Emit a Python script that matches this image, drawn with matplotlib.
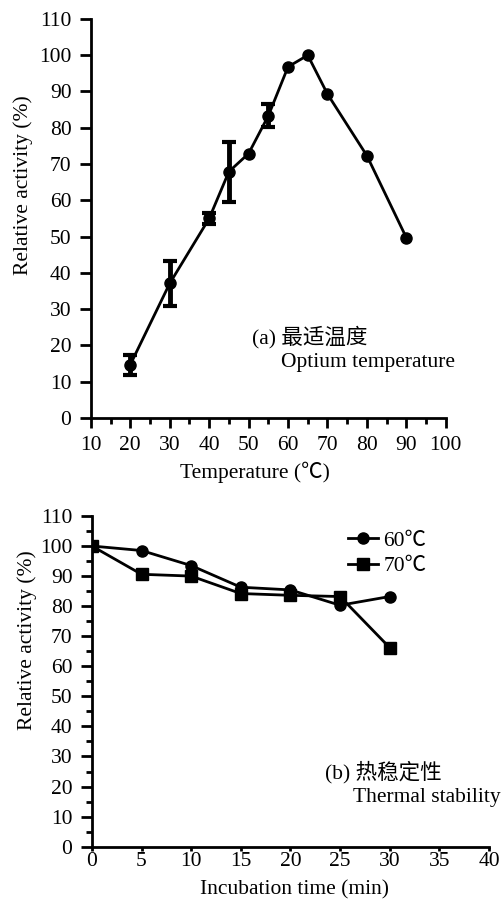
import matplotlib
matplotlib.use('Agg')
import matplotlib.pyplot as plt
from matplotlib.ticker import MultipleLocator

plt.rcParams['font.family'] = ['Liberation Serif', 'Noto Sans CJK SC', 'DejaVu Sans']
plt.rcParams['font.size'] = 15.5

# (a) optimum temperature
temp = [20, 30, 40, 45, 50, 55, 60, 65, 70, 80, 90]
act_temp = [14.7, 37.1, 55.0, 67.9, 72.9, 83.3, 96.8, 100.0, 89.3, 72.3, 49.7]
err_temp = [2.8, 6.1, 1.6, 8.3, 0, 3.2, 0, 0, 0, 0, 0]

# (b) thermal stability
time_min = [0, 5, 10, 15, 20, 25, 30]
act_60 = [100.0, 98.5, 93.5, 86.3, 85.4, 80.3, 83.2]
act_70 = [100.0, 90.6, 90.0, 84.2, 83.6, 83.2, 66.2]

fig = plt.figure(figsize=(5.02, 9.02), dpi=100)

ax1 = fig.add_axes([0.181, 0.5366, 0.707, 0.4424])
ax1.plot(temp, act_temp, color='black', marker='o', markersize=8, linewidth=2)
# error bars only where a deviation was reported
ex = [t for t, e in zip(temp, err_temp) if e > 0]
ey = [a for a, e in zip(act_temp, err_temp) if e > 0]
ee = [e for e in err_temp if e > 0]
ax1.errorbar(ex, ey, yerr=ee, fmt='none', ecolor='black',
             elinewidth=3.5, capsize=5, capthick=3)
ax1.set_xlim(10, 100)
ax1.set_ylim(0, 110)
ax1.set_xticks(range(10, 101, 10))
ax1.set_yticks(range(0, 111, 10))
ax1.xaxis.set_minor_locator(MultipleLocator(5))
ax1.set_xlabel('Temperature (℃)')
ax1.set_ylabel('Relative activity (%)')
ax1.xaxis.set_label_coords(0.462, -0.11)
ax1.yaxis.set_label_coords(-0.163, 0.584)
ax1.tick_params(axis='x', which='major', pad=6)
ax1.text(0.453, 0.203, '(a) 最适温度', transform=ax1.transAxes, va='center')
ax1.text(0.535, 0.14, 'Optium temperature', transform=ax1.transAxes, va='center')

ax2 = fig.add_axes([0.183, 0.0613, 0.791, 0.3667])
ax2.plot(time_min, act_60, color='black', marker='o', markersize=8,
         linewidth=2, label='60℃')
ax2.plot(time_min, act_70, color='black', marker='s', markersize=8,
         linewidth=2, label='70℃')
ax2.set_xlim(0, 40)
ax2.set_ylim(0, 110)
ax2.set_xticks(range(0, 41, 5))
ax2.set_yticks(range(0, 111, 10))
ax2.yaxis.set_minor_locator(MultipleLocator(5))
ax2.set_xlabel('Incubation time (min)')
ax2.set_ylabel('Relative activity (%)')
ax2.xaxis.set_label_coords(0.511, -0.10)
ax2.yaxis.set_label_coords(-0.139, 0.625)
ax2.tick_params(axis='x', which='major', length=3, pad=1)
ax2.legend(loc='upper left', bbox_to_anchor=(0.645, 0.955), frameon=False,
           borderpad=0, borderaxespad=0, handlelength=1.4,
           handletextpad=0.25, labelspacing=0.25)
ax2.text(0.587, 0.226, '(b) 热稳定性', transform=ax2.transAxes, va='center')
ax2.text(0.657, 0.15, 'Thermal stability', transform=ax2.transAxes, va='center')

for ax in (ax1, ax2):
    ax.spines['top'].set_visible(False)
    ax.spines['right'].set_visible(False)
    ax.spines['left'].set_linewidth(2)
    ax.spines['bottom'].set_linewidth(2)
    ax.tick_params(which='major', direction='out', width=2)
    ax.tick_params(axis='y', which='major', length=8, pad=6)
    ax.tick_params(which='minor', direction='out', length=4, width=2)
ax1.tick_params(axis='x', which='major', length=7)

fig.savefig('out.png', dpi=100)
